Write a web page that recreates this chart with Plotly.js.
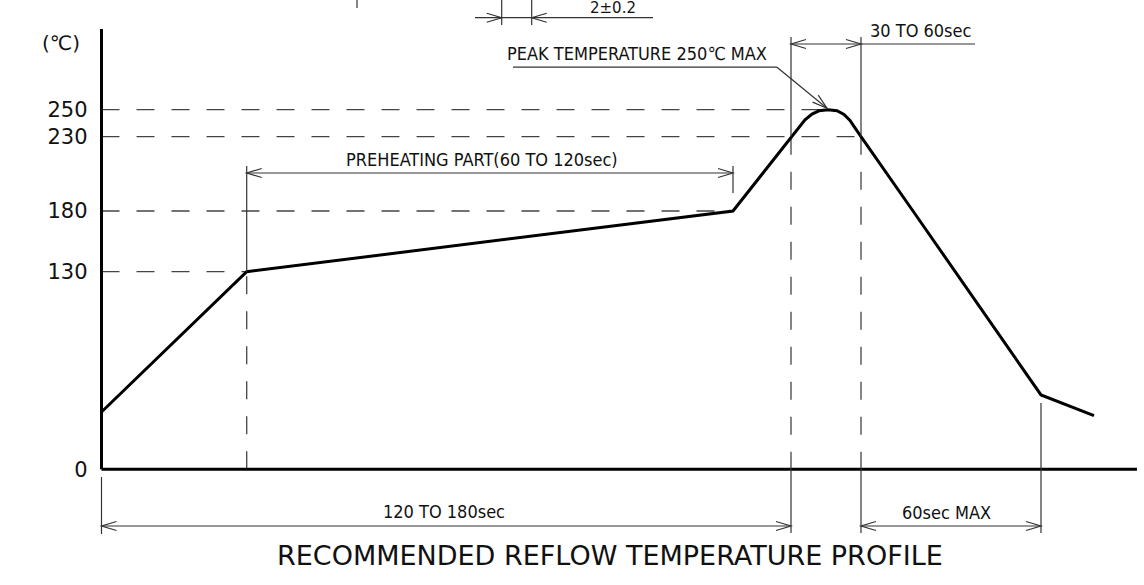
<!DOCTYPE html>
<html><head><meta charset="utf-8">
<script src="https://cdn.plot.ly/plotly-3.0.1.min.js"></script>
<style>html,body{margin:0;padding:0;background:#fff;}#chart{width:1144px;height:585px;}</style>
</head><body><div id="chart"></div>
<script>
// ---- Data (schematic reflow profile) ----
// position along the time axis of the drawing (schematic units) and temperature in °C
const TIME = [0, 145.2, 631.5, 689.5, 696.5, 703.5, 710.5, 717.5, 726.5, 735.5, 742.5, 748.5, 753.5, 759.5, 811.5, 853.5, 939.5, 992.5];
const TEMP = [37.7, 130, 180, 230, 236.5, 242.5, 246.8, 249.2, 250, 249.2, 246.5, 242, 236.5, 230, 180, 130, 48.9, 35.3];
const TICK_TEMPS = [0, 130, 180, 230, 250];
const TICK_TEXT = ['0', '130', '180', '230', '250'];
const Y_UNIT = '(℃)';
const TITLE = 'RECOMMENDED REFLOW TEMPERATURE PROFILE';
const LABEL_PREHEAT = 'PREHEATING PART(60 TO 120sec)';
const LABEL_PEAK = 'PEAK TEMPERATURE 250℃ MAX';
const LABEL_PEAKTIME = '30 TO 60sec';
const LABEL_TOTAL = '120 TO 180sec';
const LABEL_COOL = '60sec MAX';
const LABEL_TOP = '2±0.2';
// key points of the profile (indices into TIME/TEMP)
const I_PRE_START = 1, I_PRE_END = 2, I_RISE_230 = 3, I_PEAK = 8, I_FALL_230 = 13, I_COOL_END = 16;

// ---- Schematic (non-linear) temperature scale of the drawing ----
const SCALE_H = [0, 197.6, 258.3, 332.6, 359.6];   // drawing height of each tick temperature
function h(t) {
  for (let i = 1; i < TICK_TEMPS.length; i++) {
    if (t <= TICK_TEMPS[i] || i === TICK_TEMPS.length - 1) {
      const a = TICK_TEMPS[i - 1], b = TICK_TEMPS[i];
      return SCALE_H[i - 1] + (t - a) / (b - a) * (SCALE_H[i] - SCALE_H[i - 1]);
    }
  }
}

// page geometry helpers (1 axis unit = 1 px)
const W = 1144, HGT = 585, X0 = 101.5, Y0 = 469.3;
const px = v => v - X0;        // page x -> axis x
const py = v => Y0 - v;        // page y -> axis y

const THIN = {color: '#333', width: 1.2};
const DASH = {color: '#444', width: 1.3, dash: '18px,17px'};
const shapes = [];
function seg(x0, y0, x1, y1, line, layer) {
  shapes.push({type: 'line', xref: 'x', yref: 'y', x0, y0, x1, y1, line, layer: layer || 'above'});
}
function head(tx, ty, dx, dy) {
  const n = Math.hypot(dx, dy); dx /= n; dy /= n;
  const L = 15, w = 4.5;
  const bx = tx - L * dx, by = ty - L * dy;
  const p1x = bx - w * dy, p1y = by + w * dx, p2x = bx + w * dy, p2y = by - w * dx;
  shapes.push({type: 'path', xref: 'x', yref: 'y', layer: 'above',
    path: `M${p1x},${p1y} L${tx},${ty} L${p2x},${p2y}`, line: THIN});
}

const T = TIME, hT = TEMP.map(h);

// axes drawn as heavy lines
seg(0, 0, 0, py(29), {color: '#000', width: 3});
seg(0, 0, px(1137), 0, {color: '#000', width: 3});

// horizontal dashed guides from the axis to the profile
seg(0, h(130), T[I_PRE_START], h(130), DASH, 'below');
seg(0, h(180), T[I_PRE_END], h(180), DASH, 'below');
seg(0, h(230), T[I_FALL_230], h(230), DASH, 'below');
seg(0, h(250), T[I_PEAK], h(250), DASH, 'below');

// vertical guides
seg(T[I_PRE_START], 0, T[I_PRE_START], h(130), DASH, 'below');
seg(T[I_PRE_START], h(130), T[I_PRE_START], py(166), THIN);
seg(T[I_PRE_END], py(193), T[I_PRE_END], py(166), THIN);
[I_RISE_230, I_FALL_230].forEach(i => {
  seg(T[i], py(37), T[i], h(230), THIN);
  seg(T[i], h(230), T[i], py(452), DASH, 'below');
  seg(T[i], py(452), T[i], py(533), THIN);
});
seg(T[I_COOL_END], py(403), T[I_COOL_END], py(533), THIN);
seg(0, py(477), 0, py(534), THIN);

// dimension: preheating
const yPre = py(173);
seg(T[I_PRE_START], yPre, T[I_PRE_END], yPre, THIN);
head(T[I_PRE_START], yPre, -1, 0); head(T[I_PRE_END], yPre, 1, 0);
// dimension: 30 to 60 sec
const yTop = py(44);
seg(T[I_RISE_230], yTop, px(975), yTop, THIN);
head(T[I_RISE_230], yTop, -1, 0); head(T[I_FALL_230], yTop, 1, 0);
// dimension: 120 to 180 sec
const yBot = py(526);
seg(0, yBot, T[I_RISE_230], yBot, THIN);
head(0, yBot, -1, 0); head(T[I_RISE_230], yBot, 1, 0);
// dimension: 60 sec max
seg(T[I_FALL_230], yBot, T[I_COOL_END], yBot, THIN);
head(T[I_FALL_230], yBot, -1, 0); head(T[I_COOL_END], yBot, 1, 0);
// peak leader
const tipX = T[I_PEAK] - 1, tipY = hT[I_PEAK] + 1.5;
const kneeX = tipX - 50, kneeY = tipY + 41;
seg(kneeX - 264, kneeY, kneeX, kneeY, THIN);
seg(kneeX, kneeY, tipX, tipY, THIN);
head(tipX, tipY, tipX - kneeX, tipY - kneeY);
// partial dimension at the top edge
const yDim = py(17.7);
seg(px(475), yDim, px(653), yDim, THIN);
seg(px(501.7), py(-2), px(501.7), py(25), THIN);
seg(px(531.7), py(-2), px(531.7), py(25), THIN);
head(px(501.7), yDim, 1, 0); head(px(531.7), yDim, -1, 0);
seg(px(357), py(-2), px(357), py(8), THIN);

const NARROW = {family: '"Liberation Sans Narrow", "DejaVu Sans Condensed", "Arial Narrow", sans-serif', size: 18, color: '#111'};
const WIDE = {family: '"DejaVu Sans", sans-serif', size: 21, color: '#111'};
function txt(x, y, text, font) {
  return {x, y, xref: 'x', yref: 'y', text, showarrow: false, xanchor: 'center', yanchor: 'middle', font};
}
const annotations = [
  txt(px(610), py(555), TITLE, Object.assign({}, WIDE, {size: 27})),
  txt(px(61), py(43), Y_UNIT, Object.assign({}, WIDE, {size: 20})),
  txt(px(482), py(159.5), LABEL_PREHEAT, NARROW),
  txt(px(637), py(53), LABEL_PEAK, NARROW),
  txt(px(920), py(30), LABEL_PEAKTIME, NARROW),
  txt(px(444), py(511.5), LABEL_TOTAL, NARROW),
  txt(px(946.5), py(512), LABEL_COOL, NARROW),
  txt(px(613), py(7.5), LABEL_TOP, Object.assign({}, WIDE, {size: 15}))
];

const trace = {x: TIME, y: hT, type: 'scatter', mode: 'lines',
  line: {color: '#000', width: 3}, hoverinfo: 'skip', cliponaxis: false};

const layout = {
  width: W, height: HGT,
  margin: {l: 0, r: 0, t: 0, b: 0, autoexpand: false},
  paper_bgcolor: '#fff', plot_bgcolor: '#fff',
  showlegend: false,
  xaxis: {range: [-X0, W - X0], visible: false, fixedrange: true},
  yaxis: {range: [Y0 - HGT, Y0], anchor: 'free', position: X0 / W,
    tickmode: 'array', tickvals: TICK_TEMPS.map(h), ticktext: TICK_TEXT,
    showgrid: false, zeroline: false, showline: false, ticks: '',
    ticklabelstandoff: 14, tickfont: WIDE, fixedrange: true},
  shapes, annotations
};
Plotly.newPlot('chart', [trace], layout, {staticPlot: true, displayModeBar: false});
</script>
</body></html>
